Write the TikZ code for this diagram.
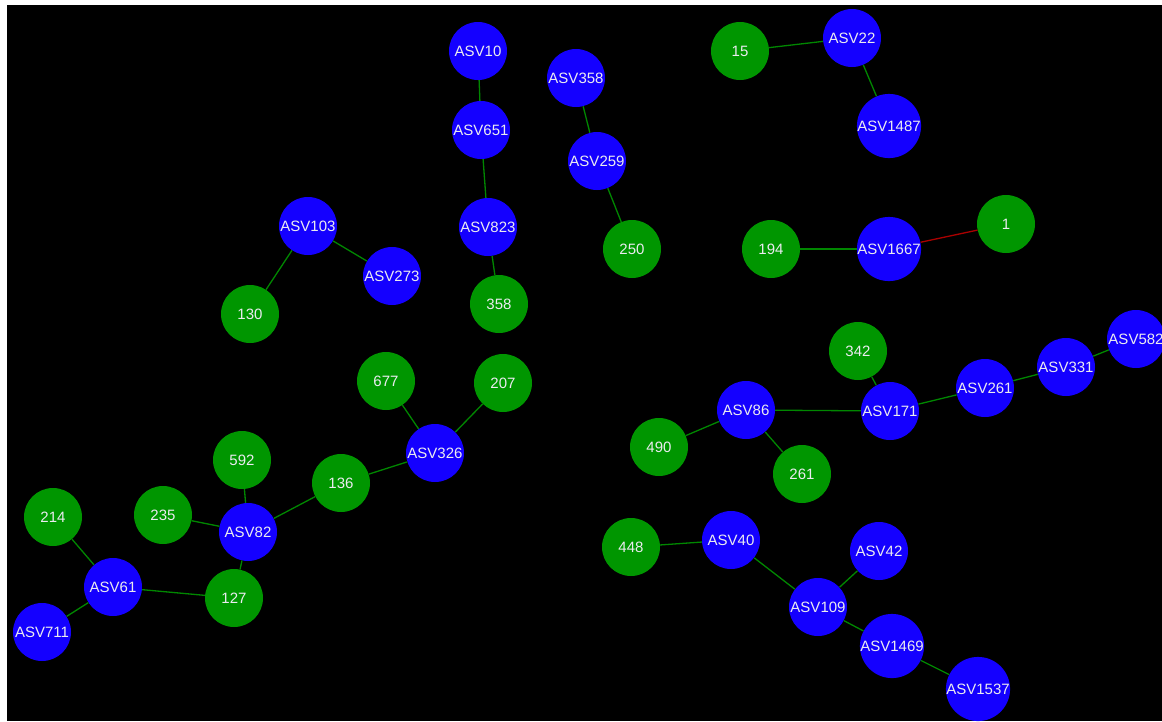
\documentclass[tikz,border=0pt]{standalone}
\usepackage{fontspec}
\setmainfont{Liberation Sans}
\usepackage{tikz}

\definecolor{asvblue}{RGB}{20,0,255}
\definecolor{cntgreen}{RGB}{0,150,0}
\definecolor{linkgreen}{RGB}{0,135,0}
\definecolor{linkred}{RGB}{170,0,0}
\definecolor{labelgray}{RGB}{235,235,240}

\begin{document}
\begin{tikzpicture}[
        x=1pt, y=-1pt,
        asv/.style={circle,fill=asvblue,minimum size=58pt,inner sep=0pt,text=labelgray,font=\fontsize{15}{18}\selectfont},
        cnt/.style={circle,fill=cntgreen,minimum size=58pt,inner sep=0pt,text=labelgray,font=\fontsize{15}{18}\selectfont},
        link/.style={draw=linkgreen,line width=1.3pt}
    ]
        \useasboundingbox (0,0) rectangle (1162,721);
        \clip (0,0) rectangle (1162,721);
        \fill [white] (0,0) rectangle (1162,721);
        \fill [black] (7,5) rectangle (1162,721);

        \node [asv] (asv10)   at (478,51)  {ASV10};
        \node [asv] (asv651)  at (481,130) {ASV651};
        \node [asv] (asv823)  at (488,227) {ASV823};
        \node [cnt] (n358)    at (499,304) {358};
        \node [asv] (asv358)  at (576,78)  {ASV358};
        \node [asv] (asv259)  at (597,161) {ASV259};
        \node [cnt] (n250)    at (632,249) {250};

        \node [cnt] (n15)     at (740,51)  {15};
        \node [asv] (asv22)   at (852,38)  {ASV22};
        \node [asv] (asv1487) at (889,126) {ASV1487};

        \node [cnt] (n194)    at (771,249) {194};
        \node [asv] (asv1667) at (889,249) {ASV1667};
        \node [cnt] (n1)      at (1006,224) {1};

        \node [asv] (asv103)  at (308,226) {ASV103};
        \node [asv] (asv273)  at (392,276) {ASV273};
        \node [cnt] (n130)    at (250,314) {130};

        \node [cnt] (n677)    at (386,381) {677};
        \node [cnt] (n207)    at (503,383) {207};
        \node [asv] (asv326)  at (435,453) {ASV326};
        \node [cnt] (n136)    at (341,483) {136};
        \node [cnt] (n592)    at (242,460) {592};
        \node [cnt] (n235)    at (163,515) {235};
        \node [asv] (asv82)   at (248,532) {ASV82};
        \node [cnt] (n214)    at (53,517)  {214};
        \node [asv] (asv61)   at (113,587) {ASV61};
        \node [cnt] (n127)    at (234,598) {127};
        \node [asv] (asv711)  at (42,632)  {ASV711};

        \node [cnt] (n342)    at (858,351) {342};
        \node [asv] (asv86)   at (746,410) {ASV86};
        \node [asv] (asv171)  at (890,411) {ASV171};
        \node [asv] (asv261)  at (985,388) {ASV261};
        \node [asv] (asv331)  at (1066,367) {ASV331};
        \node [asv] (asv582)  at (1136,339) {ASV582};
        \node [cnt] (n490)    at (659,447) {490};
        \node [cnt] (n261)    at (802,474) {261};

        \node [cnt] (n448)    at (631,547) {448};
        \node [asv] (asv40)   at (731,540) {ASV40};
        \node [asv] (asv42)   at (879,551) {ASV42};
        \node [asv] (asv109)  at (818,607) {ASV109};
        \node [asv] (asv1469) at (892,646) {ASV1469};
        \node [asv] (asv1537) at (978,689) {ASV1537};

        \draw [link] (asv10) -- (asv651) -- (asv823) -- (n358);
        \draw [link] (asv358) -- (asv259) -- (n250);
        \draw [link] (n15) -- (asv22) -- (asv1487);
        \draw [link] (n194) -- (asv1667);
        \draw [link,draw=linkred] (asv1667) -- (n1);
        \draw [link] (n130) -- (asv103) -- (asv273);
        \draw [link] (n677) -- (asv326);
        \draw [link] (n207) -- (asv326);
        \draw [link] (asv326) -- (n136) -- (asv82);
        \draw [link] (n592) -- (asv82);
        \draw [link] (n235) -- (asv82);
        \draw [link] (asv82) -- (n127);
        \draw [link] (n214) -- (asv61);
        \draw [link] (asv61) -- (n127);
        \draw [link] (asv61) -- (asv711);
        \draw [link] (n342) -- (asv171);
        \draw [link] (asv86) -- (asv171) -- (asv261) -- (asv331) -- (asv582);
        \draw [link] (n490) -- (asv86) -- (n261);
        \draw [link] (n448) -- (asv40) -- (asv109) -- (asv1469) -- (asv1537);
        \draw [link] (asv42) -- (asv109);
    \end{tikzpicture}
\end{document}
